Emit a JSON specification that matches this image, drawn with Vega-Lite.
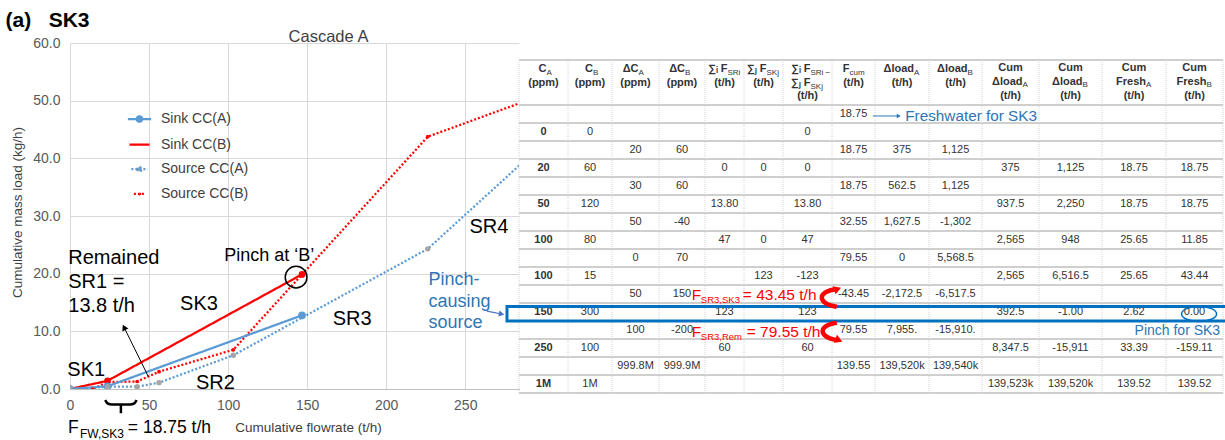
{
"$schema": "https://vega.github.io/schema/vega-lite/v6.json",
"width": 449, "height": 346,
"autosize": {"type": "none"},
"padding": {"left": 70, "top": 43, "right": 706, "bottom": 51},
"background": "white",
"config": {"font": "Liberation Sans", "view": {"stroke": null}},
"datasets": {
"curves": [
{"s":"Sink CC(B)","x":0,"y":0},{"s":"Sink CC(B)","x":23.75,"y":1.425},{"s":"Sink CC(B)","x":146.75,"y":19.875},
{"s":"Source CC(B)","x":0,"y":0},{"s":"Source CC(B)","x":14.4,"y":0},{"s":"Source CC(B)","x":23.75,"y":1.2},{"s":"Source CC(B)","x":42.5,"y":1.3},{"s":"Source CC(B)","x":56.3,"y":3.0},{"s":"Source CC(B)","x":103.3,"y":6.8},{"s":"Source CC(B)","x":226.3,"y":43.75},{"s":"Source CC(B)","x":286.3,"y":49.75},
{"s":"Sink CC(A)","x":0,"y":0},{"s":"Sink CC(A)","x":23.75,"y":0.475},{"s":"Sink CC(A)","x":146.75,"y":12.775},
{"s":"Source CC(A)","x":0,"y":0},{"s":"Source CC(A)","x":23.75,"y":0.4},{"s":"Source CC(A)","x":42.5,"y":0.4},{"s":"Source CC(A)","x":56.3,"y":1.1},{"s":"Source CC(A)","x":103.3,"y":5.85},{"s":"Source CC(A)","x":226.3,"y":24.3},{"s":"Source CC(A)","x":286.3,"y":39.3}
],
"notes": [
{"g":"seg","x":-1.7,"y":2.3,"label":"SK1"},
{"g":"seg","x":79.7,"y":0.0,"label":"SR2"},
{"g":"seg","x":69.6,"y":13.7,"label":"SK3"},
{"g":"seg","x":166.2,"y":11.1,"label":"SR3"},
{"g":"seg","x":252.7,"y":27.0,"label":"SR4"},
{"g":"rem","x":-1.1,"y":21.7,"label":"Remained\nSR1 =\n13.8 t/h"},
{"g":"pinch","x":97.5,"y":22.2,"label":"Pinch at ‘B’"},
{"g":"cause","x":226.8,"y":18.0,"label":"Pinch-\ncausing\nsource"},
{"g":"fw","x":-1.3,"y":-7.63,"label":"F"},
{"g":"fwsub","x":6.3,"y":-8.5,"label":"FW,SK3"},
{"g":"fw","x":36.6,"y":-7.63,"label":"= 18.75 t/h"}
],
"segs": [
{"id":"rem","i":0,"x":49.6,"y":2.13},{"id":"rem","i":1,"x":34.2,"y":10.7},
{"id":"cause","i":0,"x":263.7,"y":13.5},{"id":"cause","i":1,"x":273.0,"y":13.0},
{"id":"br1","i":0,"x":22.3,"y":-1.9},{"id":"br1","i":1,"x":23.5,"y":-2.55},{"id":"br1","i":2,"x":25.5,"y":-2.7},{"id":"br1","i":3,"x":32.2,"y":-2.7},{"id":"br1","i":4,"x":38.9,"y":-2.7},{"id":"br1","i":5,"x":40.9,"y":-2.55},{"id":"br1","i":6,"x":42.1,"y":-1.9},
{"id":"br2","i":0,"x":32.2,"y":-2.7},{"id":"br2","i":1,"x":32.2,"y":-4.2}
],
"heads": [
{"id":"rem","x":34.2,"y":10.7},
{"id":"cause","x":273.0,"y":13.0}
],
"circ": [{"x":143.0,"y":19.4}],
"cells": [
{"ty":1,"tx":7,"v":"18.75"},
{"ty":2,"tx":0,"v":"0"},{"ty":2,"tx":1,"v":"0"},{"ty":2,"tx":6,"v":"0"},
{"ty":3,"tx":2,"v":"20"},{"ty":3,"tx":3,"v":"60"},{"ty":3,"tx":7,"v":"18.75"},{"ty":3,"tx":8,"v":"375"},{"ty":3,"tx":9,"v":"1,125"},
{"ty":4,"tx":0,"v":"20"},{"ty":4,"tx":1,"v":"60"},{"ty":4,"tx":4,"v":"0"},{"ty":4,"tx":5,"v":"0"},{"ty":4,"tx":6,"v":"0"},{"ty":4,"tx":10,"v":"375"},{"ty":4,"tx":11,"v":"1,125"},{"ty":4,"tx":12,"v":"18.75"},{"ty":4,"tx":13,"v":"18.75"},
{"ty":5,"tx":2,"v":"30"},{"ty":5,"tx":3,"v":"60"},{"ty":5,"tx":7,"v":"18.75"},{"ty":5,"tx":8,"v":"562.5"},{"ty":5,"tx":9,"v":"1,125"},
{"ty":6,"tx":0,"v":"50"},{"ty":6,"tx":1,"v":"120"},{"ty":6,"tx":4,"v":"13.80"},{"ty":6,"tx":6,"v":"13.80"},{"ty":6,"tx":10,"v":"937.5"},{"ty":6,"tx":11,"v":"2,250"},{"ty":6,"tx":12,"v":"18.75"},{"ty":6,"tx":13,"v":"18.75"},
{"ty":7,"tx":2,"v":"50"},{"ty":7,"tx":3,"v":"-40"},{"ty":7,"tx":7,"v":"32.55"},{"ty":7,"tx":8,"v":"1,627.5"},{"ty":7,"tx":9,"v":"-1,302"},
{"ty":8,"tx":0,"v":"100"},{"ty":8,"tx":1,"v":"80"},{"ty":8,"tx":4,"v":"47"},{"ty":8,"tx":5,"v":"0"},{"ty":8,"tx":6,"v":"47"},{"ty":8,"tx":10,"v":"2,565"},{"ty":8,"tx":11,"v":"948"},{"ty":8,"tx":12,"v":"25.65"},{"ty":8,"tx":13,"v":"11.85"},
{"ty":9,"tx":2,"v":"0"},{"ty":9,"tx":3,"v":"70"},{"ty":9,"tx":7,"v":"79.55"},{"ty":9,"tx":8,"v":"0"},{"ty":9,"tx":9,"v":"5,568.5"},
{"ty":10,"tx":0,"v":"100"},{"ty":10,"tx":1,"v":"15"},{"ty":10,"tx":5,"v":"123"},{"ty":10,"tx":6,"v":"-123"},{"ty":10,"tx":10,"v":"2,565"},{"ty":10,"tx":11,"v":"6,516.5"},{"ty":10,"tx":12,"v":"25.65"},{"ty":10,"tx":13,"v":"43.44"},
{"ty":11,"tx":2,"v":"50"},{"ty":11,"tx":3,"v":"150"},{"ty":11,"tx":7,"v":"-43.45"},{"ty":11,"tx":8,"v":"-2,172.5"},{"ty":11,"tx":9,"v":"-6,517.5"},
{"ty":12,"tx":0,"v":"150"},{"ty":12,"tx":1,"v":"300"},{"ty":12,"tx":4,"v":"123"},{"ty":12,"tx":6,"v":"123"},{"ty":12,"tx":10,"v":"392.5"},{"ty":12,"tx":11,"v":"-1.00"},{"ty":12,"tx":12,"v":"2.62"},{"ty":12,"tx":13,"v":"0.00"},
{"ty":13,"tx":2,"v":"100"},{"ty":13,"tx":3,"v":"-200"},{"ty":13,"tx":7,"v":"79.55"},{"ty":13,"tx":8,"v":"7,955."},{"ty":13,"tx":9,"v":"-15,910."},
{"ty":14,"tx":0,"v":"250"},{"ty":14,"tx":1,"v":"100"},{"ty":14,"tx":4,"v":"60"},{"ty":14,"tx":6,"v":"60"},{"ty":14,"tx":10,"v":"8,347.5"},{"ty":14,"tx":11,"v":"-15,911"},{"ty":14,"tx":12,"v":"33.39"},{"ty":14,"tx":13,"v":"-159.11"},
{"ty":15,"tx":2,"v":"999.8M"},{"ty":15,"tx":3,"v":"999.9M"},{"ty":15,"tx":7,"v":"139.55"},{"ty":15,"tx":8,"v":"139,520k"},{"ty":15,"tx":9,"v":"139,540k"},
{"ty":16,"tx":0,"v":"1M"},{"ty":16,"tx":1,"v":"1M"},{"ty":16,"tx":10,"v":"139,523k"},{"ty":16,"tx":11,"v":"139,520k"},{"ty":16,"tx":12,"v":"139.52"},{"ty":16,"tx":13,"v":"139.52"}
],
"head": [
{"tx":0,"ty":-0.3,"t":"C","s":"A"},{"tx":0,"ty":0,"t":"(ppm)"},
{"tx":1,"ty":-0.3,"t":"C","s":"B"},{"tx":1,"ty":0,"t":"(ppm)"},
{"tx":2,"ty":-0.3,"t":"ΔC","s":"A"},{"tx":2,"ty":0,"t":"(ppm)"},
{"tx":3,"ty":-0.3,"t":"ΔC","s":"B"},{"tx":3,"ty":0,"t":"(ppm)"},
{"tx":4,"ty":-0.3,"t":"∑ᵢ F","s":"SRi"},{"tx":4,"ty":0,"t":"(t/h)"},
{"tx":5,"ty":-0.3,"t":"∑ⱼ F","s":"SKj"},{"tx":5,"ty":0,"t":"(t/h)"},
{"tx":6,"ty":-0.3,"t":"∑ᵢ F","s":"SRi −"},{"tx":6,"ty":0.02,"t":"∑ⱼ F","s":"SKj"},{"tx":6,"ty":0.3,"t":"(t/h)"},
{"tx":7,"ty":-0.3,"t":"F","s":"cum"},{"tx":7,"ty":0,"t":"(t/h)"},
{"tx":8,"ty":-0.3,"t":"Δload","s":"A"},{"tx":8,"ty":0,"t":"(t/h)"},
{"tx":9,"ty":-0.3,"t":"Δload","s":"B"},{"tx":9,"ty":0,"t":"(t/h)"},
{"tx":10,"ty":-0.33,"t":"Cum"},{"tx":10,"ty":-0.02,"t":"Δload","s":"A"},{"tx":10,"ty":0.3,"t":"(t/h)"},
{"tx":11,"ty":-0.33,"t":"Cum"},{"tx":11,"ty":-0.02,"t":"Δload","s":"B"},{"tx":11,"ty":0.3,"t":"(t/h)"},
{"tx":12,"ty":-0.33,"t":"Cum"},{"tx":12,"ty":-0.02,"t":"Fresh","s":"A"},{"tx":12,"ty":0.3,"t":"(t/h)"},
{"tx":13,"ty":-0.33,"t":"Cum"},{"tx":13,"ty":-0.02,"t":"Fresh","s":"B"},{"tx":13,"ty":0.3,"t":"(t/h)"}
],
"hl": [
{"ty":-0.5,"tx":-0.5,"tx2":13.5},{"ty":0.5,"tx":-0.5,"tx2":13.5},{"ty":1.5,"tx":-0.5,"tx2":13.5},{"ty":2.5,"tx":-0.5,"tx2":13.5},{"ty":3.5,"tx":-0.5,"tx2":13.5},{"ty":4.5,"tx":-0.5,"tx2":13.5},{"ty":5.5,"tx":-0.5,"tx2":13.5},{"ty":6.5,"tx":-0.5,"tx2":13.5},{"ty":7.5,"tx":-0.5,"tx2":13.5},{"ty":8.5,"tx":-0.5,"tx2":13.5},{"ty":9.5,"tx":-0.5,"tx2":13.5},{"ty":10.5,"tx":-0.5,"tx2":13.5},{"ty":11.5,"tx":-0.5,"tx2":13.5},{"ty":12.5,"tx":-0.5,"tx2":13.5},{"ty":13.5,"tx":-0.5,"tx2":13.5},{"ty":14.5,"tx":-0.5,"tx2":13.5},{"ty":15.5,"tx":-0.5,"tx2":13.5},{"ty":16.5,"tx":-0.5,"tx2":13.5}
],
"vl": [
{"tx":-0.5,"ty":-0.5,"ty2":16.5},{"tx":0.5,"ty":-0.5,"ty2":16.5},{"tx":1.5,"ty":-0.5,"ty2":16.5},{"tx":2.5,"ty":-0.5,"ty2":16.5},{"tx":3.5,"ty":-0.5,"ty2":16.5},{"tx":4.5,"ty":-0.5,"ty2":16.5},{"tx":5.5,"ty":-0.5,"ty2":16.5},{"tx":6.5,"ty":-0.5,"ty2":16.5},{"tx":7.5,"ty":-0.5,"ty2":16.5},{"tx":8.5,"ty":-0.5,"ty2":16.5},{"tx":9.5,"ty":-0.5,"ty2":16.5},{"tx":10.5,"ty":-0.5,"ty2":16.5},{"tx":11.5,"ty":-0.5,"ty2":16.5},{"tx":12.5,"ty":-0.5,"ty2":16.5},{"tx":13.5,"ty":-0.5,"ty2":16.5}
],
"hilite": [{"tx":-0.745,"tx2":14,"ty":11.7,"ty2":12.5}],
"ellipse": [{"tx":13.08,"ty":12.11}],
"tnotes": [
{"g":"fresh","tx":8.06,"ty":1.11,"label":"Freshwater for SK3"},
{"g":"pinchsk","tx":13.45,"ty":13.06,"label":"Pinch for SK3"},
{"g":"redF","tx":3.21,"ty":11.33,"label":"F"},
{"g":"redSub","tx":3.41,"ty":11.52,"label":"SR3,SK3"},
{"g":"redF","tx":4.47,"ty":11.33,"label":"= 43.45 t/h"},
{"g":"redF","tx":3.21,"ty":13.41,"label":"F"},
{"g":"redSub","tx":3.41,"ty":13.58,"label":"SR3,Rem"},
{"g":"redF","tx":4.57,"ty":13.41,"label":"= 79.55 t/h"}
],
"tsegs": [
{"id":"fresh","i":0,"tx":7.45,"ty":1.11},{"id":"fresh","i":1,"tx":7.94,"ty":1.11},
{"id":"up","i":0,"tx":6.61,"ty":11.71},{"id":"up","i":1,"tx":6.4,"ty":11.6},{"id":"up","i":2,"tx":6.27,"ty":11.3},{"id":"up","i":3,"tx":6.31,"ty":10.95},{"id":"up","i":4,"tx":6.48,"ty":10.77},{"id":"up","i":5,"tx":6.6,"ty":10.73},
{"id":"dn","i":0,"tx":6.61,"ty":12.59},{"id":"dn","i":1,"tx":6.38,"ty":12.72},{"id":"dn","i":2,"tx":6.29,"ty":13.0},{"id":"dn","i":3,"tx":6.33,"ty":13.3},{"id":"dn","i":4,"tx":6.47,"ty":13.5},{"id":"dn","i":5,"tx":6.63,"ty":13.56}
],
"theads": [
{"id":"fresh","tx":7.94,"ty":1.11},
{"id":"up","tx":6.63,"ty":10.72},
{"id":"dn","tx":6.66,"ty":13.57}
]
},
"layer": [
{
"encoding": {
"x": {"field":"x","type":"quantitative","scale":{"domain":[0,284],"nice":false,"zero":false},
 "axis":{"values":[0,50,100,150,200,250],"title":"Cumulative flowrate (t/h)","titleX":238,"titleY":38,"titleAlign":"center","titleBaseline":"middle","titleFontSize":13.5,"titleFontWeight":"normal","titleColor":"#404040","labelFontSize":14,"labelColor":"#595959","labelPadding":9,"labelFlush":false,"labelOverlap":false,"ticks":false,"domainColor":"#bfbfbf","grid":true,"gridColor":"#d9d9d9"}},
"y": {"field":"y","type":"quantitative","scale":{"domain":[0,60],"nice":false,"zero":false},
 "axis":{"values":[0,10,20,30,40,50,60],"format":".1f","title":"Cumulative mass load (kg/h)","titleX":-53,"titleY":169,"titleAngle":-90,"titleAlign":"center","titleBaseline":"middle","titleFontSize":13.5,"titleFontWeight":"normal","titleColor":"#404040","labelFontSize":14,"labelColor":"#595959","labelPadding":10,"ticks":false,"domain":false,"grid":true,"gridColor":"#d9d9d9"}}
},
"layer": [
{"data":{"name":"curves"},"mark":{"type":"line","clip":true},
 "encoding":{
  "color":{"field":"s","type":"nominal","scale":{"domain":["Sink CC(A)","Sink CC(B)","Source CC(A)","Source CC(B)"],"range":["#5B9BD5","#FF0000","#5B9BD5","#FF0000"]},
   "legend":{"orient":"none","legendX":62.5,"legendY":69,"title":null,"labelFontSize":14,"labelColor":"#404040","symbolStrokeWidth":2,"labelOffset":14.5,"rowPadding":10.6,"padding":0,
    "encode":{"symbols":{"update":{
     "shape":{"signal":"datum.value === 'Sink CC(A)' ? 'M-3,0H3M-0.7,0A0.7,0.7,0,1,0,0.7,0A0.7,0.7,0,1,0,-0.7,0' : datum.value === 'Source CC(A)' ? 'M-3,0H3M-0.8,0A0.8,0.8,0,1,0,0.8,0A0.8,0.8,0,1,0,-0.8,0' : datum.value === 'Source CC(B)' ? 'M-3,0H3M-0.3,0A0.3,0.3,0,1,0,0.3,0A0.3,0.3,0,1,0,-0.3,0' : 'M-3,0H3'"},
     "fill":{"signal":"datum.value === 'Sink CC(A)' ? '#5B9BD5' : datum.value === 'Source CC(A)' ? '#A5A5A5' : datum.value === 'Source CC(B)' ? '#FF0000' : 'transparent'"}
    }}}}},
  "strokeDash":{"field":"s","type":"nominal","scale":{"domain":["Sink CC(A)","Sink CC(B)","Source CC(A)","Source CC(B)"],"range":[[1,0],[1,0],[2,2],[2,2]]}},
  "strokeWidth":{"field":"s","type":"ordinal","scale":{"domain":["Sink CC(A)","Sink CC(B)","Source CC(A)","Source CC(B)"],"range":[2.25,2.25,1.5,1.5]},"legend":null}
 }},
{"data":{"name":"curves"},"mark":{"type":"point","filled":true,"opacity":1,"clip":true,"strokeWidth":0},
 "encoding":{
  "fill":{"field":"s","type":"nominal","scale":{"domain":["Sink CC(A)","Sink CC(B)","Source CC(A)","Source CC(B)"],"range":["#5B9BD5","#FF0000","#A5A5A5","#FF0000"]},"legend":null},
  "size":{"field":"s","type":"ordinal","scale":{"domain":["Sink CC(A)","Sink CC(B)","Source CC(A)","Source CC(B)"],"range":[60,14,75,12]},"legend":null}
 }},
{"data":{"name":"notes"},"transform":[{"filter":"datum.g == 'seg'"}],"mark":{"type":"text","align":"left","baseline":"alphabetic","fontSize":20,"color":"#000000"},"encoding":{"text":{"field":"label","type":"nominal"}}},
{"data":{"name":"notes"},"transform":[{"filter":"datum.g == 'rem'"}],"mark":{"type":"text","align":"left","baseline":"alphabetic","fontSize":20,"lineBreak":"\n","lineHeight":24,"color":"#000000"},"encoding":{"text":{"field":"label","type":"nominal"}}},
{"data":{"name":"notes"},"transform":[{"filter":"datum.g == 'pinch'"}],"mark":{"type":"text","align":"left","baseline":"alphabetic","fontSize":18,"color":"#000000"},"encoding":{"text":{"field":"label","type":"nominal"}}},
{"data":{"name":"notes"},"transform":[{"filter":"datum.g == 'cause'"}],"mark":{"type":"text","align":"left","baseline":"alphabetic","fontSize":18,"lineBreak":"\n","lineHeight":21.5,"color":"#2E75B6"},"encoding":{"text":{"field":"label","type":"nominal"}}},
{"data":{"name":"notes"},"transform":[{"filter":"datum.g == 'fw'"}],"mark":{"type":"text","align":"left","baseline":"alphabetic","fontSize":17.5,"color":"#000000"},"encoding":{"text":{"field":"label","type":"nominal"}}},
{"data":{"name":"notes"},"transform":[{"filter":"datum.g == 'fwsub'"}],"mark":{"type":"text","align":"left","baseline":"alphabetic","fontSize":12,"color":"#000000"},"encoding":{"text":{"field":"label","type":"nominal"}}},
{"data":{"name":"segs"},"transform":[{"filter":"datum.id == 'rem'"}],"mark":{"type":"line","color":"#000000","strokeWidth":1},"encoding":{"order":{"field":"i","type":"quantitative"}}},
{"data":{"name":"segs"},"transform":[{"filter":"datum.id == 'cause'"}],"mark":{"type":"line","color":"#4472C4","strokeWidth":1.2},"encoding":{"order":{"field":"i","type":"quantitative"}}},
{"data":{"name":"segs"},"transform":[{"filter":"datum.id == 'br1' || datum.id == 'br2'"}],"mark":{"type":"line","color":"#000000","strokeWidth":2.5,"interpolate":"basis"},"encoding":{"detail":{"field":"id","type":"nominal"},"order":{"field":"i","type":"quantitative"}}},
{"data":{"name":"heads"},"transform":[{"filter":"datum.id == 'rem'"}],"mark":{"type":"point","shape":"triangle-up","angle":-26,"size":45,"filled":true,"color":"#000000","opacity":1}},
{"data":{"name":"heads"},"transform":[{"filter":"datum.id == 'cause'"}],"mark":{"type":"point","shape":"triangle-right","angle":11,"size":40,"filled":true,"color":"#4472C4","opacity":1}},
{"data":{"name":"circ"},"mark":{"type":"point","shape":"circle","size":470,"filled":false,"color":"#000000","strokeWidth":1.5,"opacity":1}}
]
},
{
"encoding": {
"x": {"field":"tx","type":"quantitative","scale":{"domain":[-0.5,0.5,1.5,2.5,3.5,4.5,5.5,6.5,7.5,8.5,9.5,10.5,11.5,12.5,13.5],"range":[449,498,542,589,635,674,713,762,805,859,912,969,1032,1096,1153],"nice":false,"zero":false},
 "axis":{"orient":"top","title":"(a)\u00a0\u00a0\u00a0SK3","titleX":-65,"titleY":-17,"titleAlign":"left","titleBaseline":"alphabetic","titleFontSize":21,"titleFontWeight":"bold","titleColor":"#000000","labels":false,"ticks":false,"domain":false,"grid":false}},
"y": {"field":"ty","type":"quantitative","scale":{"domain":[-0.5,0.5,16.5],"range":[17,62,350],"nice":false,"zero":false},
 "axis":{"orient":"right","title":"Cascade A","titleAngle":0,"titleX":-191,"titleY":-2,"titleAlign":"center","titleBaseline":"alphabetic","titleFontSize":16.5,"titleFontWeight":"normal","titleColor":"#404040","labels":false,"ticks":false,"domain":false,"grid":false}}
},
"layer": [
{"data":{"name":"hl"},"mark":{"type":"rule","color":"#cfcfcf","strokeWidth":1.8},"encoding":{"x2":{"field":"tx2"}}},
{"data":{"name":"vl"},"mark":{"type":"rule","color":"#d4d4d4","strokeWidth":1,"strokeDash":[1,1]},"encoding":{"y2":{"field":"ty2"}}},
{"data":{"name":"cells"},"transform":[{"filter":"datum.tx > 0"}],"mark":{"type":"text","align":"center","baseline":"middle","fontSize":11,"color":"#333333"},"encoding":{"text":{"field":"v","type":"nominal"}}},
{"data":{"name":"cells"},"transform":[{"filter":"datum.tx == 0"}],"mark":{"type":"text","align":"center","baseline":"middle","fontSize":11,"fontWeight":"bold","color":"#333333"},"encoding":{"text":{"field":"v","type":"nominal"}}},
{"data":{"name":"head"},"transform":[{"filter":"!datum.s"}],"mark":{"type":"text","align":"center","baseline":"middle","fontSize":11,"fontWeight":"bold","color":"#333333"},"encoding":{"text":{"field":"t","type":"nominal"}}},
{"data":{"name":"head"},"transform":[{"filter":"datum.s && datum.t != 'Δload' && datum.t != 'Fresh' && datum.t != 'F'"}],"mark":{"type":"text","align":"right","baseline":"middle","dx":3,"fontSize":11,"fontWeight":"bold","color":"#333333"},"encoding":{"text":{"field":"t","type":"nominal"}}},
{"data":{"name":"head"},"transform":[{"filter":"datum.s && datum.t != 'Δload' && datum.t != 'Fresh' && datum.t != 'F'"}],"mark":{"type":"text","align":"left","baseline":"middle","dx":3,"dy":3.5,"fontSize":8,"color":"#333333"},"encoding":{"text":{"field":"s","type":"nominal"}}},
{"data":{"name":"head"},"transform":[{"filter":"datum.t == 'Δload' || datum.t == 'Fresh'"}],"mark":{"type":"text","align":"right","baseline":"middle","dx":12,"fontSize":11,"fontWeight":"bold","color":"#333333"},"encoding":{"text":{"field":"t","type":"nominal"}}},
{"data":{"name":"head"},"transform":[{"filter":"datum.t == 'Δload' || datum.t == 'Fresh'"}],"mark":{"type":"text","align":"left","baseline":"middle","dx":12,"dy":3.5,"fontSize":8,"color":"#333333"},"encoding":{"text":{"field":"s","type":"nominal"}}},
{"data":{"name":"head"},"transform":[{"filter":"datum.t == 'F'"}],"mark":{"type":"text","align":"right","baseline":"middle","dx":-4,"fontSize":11,"fontWeight":"bold","color":"#333333"},"encoding":{"text":{"field":"t","type":"nominal"}}},
{"data":{"name":"head"},"transform":[{"filter":"datum.t == 'F'"}],"mark":{"type":"text","align":"left","baseline":"middle","dx":-4,"dy":3.5,"fontSize":8,"color":"#333333"},"encoding":{"text":{"field":"s","type":"nominal"}}},
{"data":{"name":"hilite"},"mark":{"type":"rect","filled":false,"stroke":"#0070C0","strokeWidth":3},"encoding":{"x2":{"field":"tx2"},"y2":{"field":"ty2"}}},
{"data":{"name":"ellipse"},"mark":{"type":"point","shape":"M-1,0A1,0.43,0,1,0,1,0A1,0.43,0,1,0,-1,0Z","size":1225,"filled":false,"color":"#0070C0","strokeWidth":1.5,"opacity":1}},
{"data":{"name":"tnotes"},"transform":[{"filter":"datum.g == 'fresh'"}],"mark":{"type":"text","align":"left","baseline":"middle","fontSize":15.3,"color":"#2E75B6"},"encoding":{"text":{"field":"label","type":"nominal"}}},
{"data":{"name":"tnotes"},"transform":[{"filter":"datum.g == 'pinchsk'"}],"mark":{"type":"text","align":"right","baseline":"middle","fontSize":14,"color":"#2E75B6"},"encoding":{"text":{"field":"label","type":"nominal"}}},
{"data":{"name":"tnotes"},"transform":[{"filter":"datum.g == 'redF'"}],"mark":{"type":"text","align":"left","baseline":"alphabetic","fontSize":15.5,"color":"#FF0000"},"encoding":{"text":{"field":"label","type":"nominal"}}},
{"data":{"name":"tnotes"},"transform":[{"filter":"datum.g == 'redSub'"}],"mark":{"type":"text","align":"left","baseline":"alphabetic","fontSize":9.5,"color":"#FF0000"},"encoding":{"text":{"field":"label","type":"nominal"}}},
{"data":{"name":"tsegs"},"transform":[{"filter":"datum.id == 'fresh'"}],"mark":{"type":"line","color":"#2E75B6","strokeWidth":1},"encoding":{"order":{"field":"i","type":"quantitative"}}},
{"data":{"name":"tsegs"},"transform":[{"filter":"datum.id != 'fresh'"}],"mark":{"type":"line","color":"#FF0000","strokeWidth":4.5,"interpolate":"basis"},"encoding":{"detail":{"field":"id","type":"nominal"},"order":{"field":"i","type":"quantitative"}}},
{"data":{"name":"theads"},"transform":[{"filter":"datum.id == 'fresh'"}],"mark":{"type":"point","shape":"triangle-right","size":22,"filled":true,"color":"#2E75B6","opacity":1}},
{"data":{"name":"theads"},"transform":[{"filter":"datum.id == 'up'"}],"mark":{"type":"point","shape":"triangle-right","angle":-20,"size":75,"filled":true,"color":"#FF0000","opacity":1}},
{"data":{"name":"theads"},"transform":[{"filter":"datum.id == 'dn'"}],"mark":{"type":"point","shape":"triangle-right","angle":22,"size":75,"filled":true,"color":"#FF0000","opacity":1}}
]
}
],
"resolve": {"scale": {"x": "independent", "y": "independent"}}
}
